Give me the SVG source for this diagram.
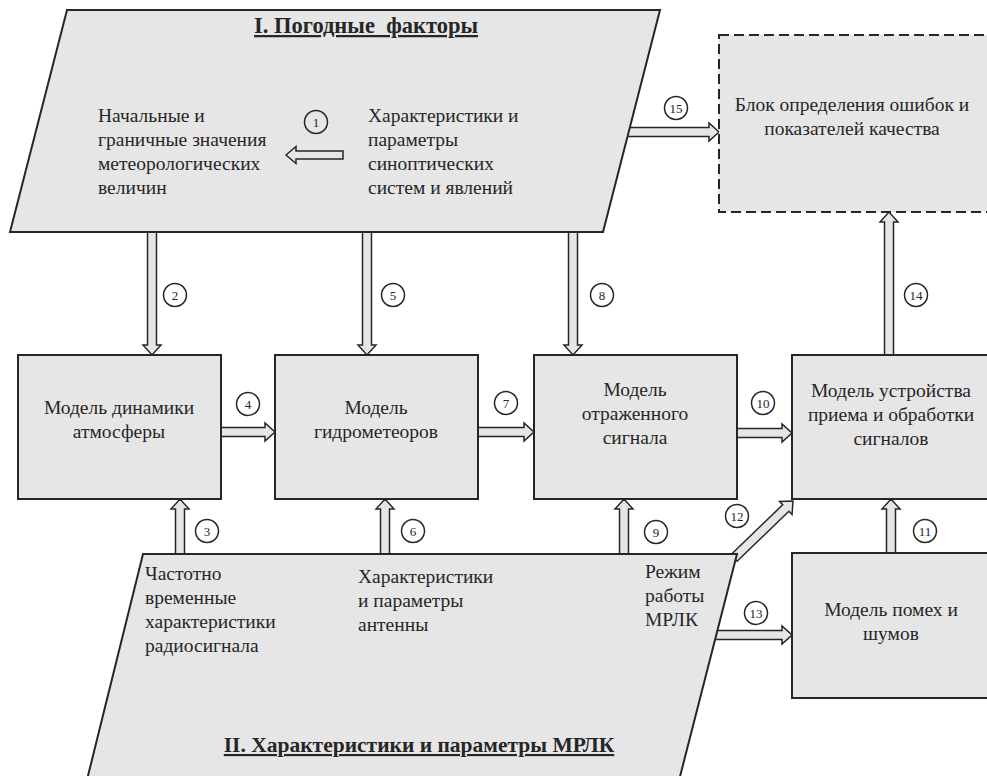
<svg xmlns="http://www.w3.org/2000/svg" width="987" height="776" viewBox="0 0 987 776" font-family="'Liberation Serif', 'Times New Roman', 'DejaVu Serif', serif">
<style>
.shape{fill:#e6e6e6;stroke:#262626;stroke-width:2}
.dash{fill:#e6e6e6;stroke:#262626;stroke-width:2;stroke-dasharray:10 5}
.ba{fill:#e6e6e6;stroke:#262626;stroke-width:1.5;stroke-linejoin:miter}
text{font-family:'Liberation Serif', 'Times New Roman', 'DejaVu Serif', serif}
.t{font-size:19.5px;fill:#262626}
.c{text-anchor:middle}
.h{font-weight:bold;text-decoration:underline}
.h1{font-size:22.5px}
.h2{font-size:21.5px}
.n circle{fill:none;stroke:#262626;stroke-width:1.5}
.n text{font-size:13px;fill:#262626;text-anchor:middle}
</style>
<rect width="987" height="776" fill="#ffffff"/>
<g id="connectors">
<path class="ba" d="M620,127.5 H709 V123 L719,132 L709,141 V136.5 H620 Z"/>
<path class="ba" d="M705,630.5 H782 V626 L792,635 L782,644 V639.5 H705 Z"/>
<path class="ba" transform="translate(734,558) rotate(-44)" d="M0,-4.5 H72 V-9 L82,0 L72,9 V4.5 H0 Z"/>
<path class="ba" d="M147.5,225 V345 H143 L152,355 L161,345 H156.5 V225 Z"/>
<path class="ba" d="M362.5,225 V345 H358 L367,355 L376,345 H371.5 V225 Z"/>
<path class="ba" d="M568.5,225 V345 H564 L573,355 L582,345 H577.5 V225 Z"/>
<path class="ba" d="M175.5,560 V509 H171 L180,499 L189,509 H184.5 V560 Z"/>
<path class="ba" d="M380.5,560 V509 H376 L385,499 L394,509 H389.5 V560 Z"/>
<path class="ba" d="M619.5,560 V509 H615 L624,499 L633,509 H628.5 V560 Z"/>
<path class="ba" d="M886.5,560 V509 H882 L891,499 L900,509 H895.5 V560 Z"/>
<path class="ba" d="M884.5,360 V222 H880 L889,212 L898,222 H893.5 V360 Z"/>
<path class="ba" d="M215,427.5 H265 V423 L275,432 L265,441 V436.5 H215 Z"/>
<path class="ba" d="M472,427.5 H524 V423 L534,432 L524,441 V436.5 H472 Z"/>
<path class="ba" d="M731,428.5 H782 V424 L792,433 L782,442 V437.5 H731 Z"/>
</g>
<g id="weather">
<polygon class="shape" points="67,10 660,10 603,232 10,232"/>
<text class="t h h1 c" x="366" y="33" xml:space="preserve">I. Погодные  факторы</text>
<text class="t" x="98" y="122">Начальные и</text>
<text class="t" x="98" y="146">граничные значения</text>
<text class="t" x="98" y="170">метеорологических</text>
<text class="t" x="98" y="194">величин</text>
<text class="t" x="368" y="122">Характеристики и</text>
<text class="t" x="368" y="146">параметры</text>
<text class="t" x="368" y="170">синоптических</text>
<text class="t" x="368" y="194">систем и явлений</text>
<path class="ba" d="M343,151 H296 V146.5 L286,155 L296,163.5 V159 H343 Z"/>
</g>
<g id="errors">
<rect class="dash" x="719" y="35" width="290" height="177"/>
<text class="t c" x="852" y="111">Блок определения ошибок и</text>
<text class="t c" x="852" y="135">показателей качества</text>
</g>
<g id="atmosphere">
<rect class="shape" x="18" y="355" width="203" height="144"/>
<text class="t c" x="119" y="414">Модель динамики</text>
<text class="t c" x="119" y="438">атмосферы</text>
</g>
<g id="hydrometeors">
<rect class="shape" x="275" y="355" width="203" height="144"/>
<text class="t c" x="376" y="414">Модель</text>
<text class="t c" x="376" y="438">гидрометеоров</text>
</g>
<g id="reflected">
<rect class="shape" x="534" y="355" width="203" height="144"/>
<text class="t c" x="635" y="396">Модель</text>
<text class="t c" x="635" y="420">отраженного</text>
<text class="t c" x="635" y="444">сигнала</text>
</g>
<g id="receiver">
<rect class="shape" x="792" y="355" width="210" height="144"/>
<text class="t c" x="891" y="397">Модель устройства</text>
<text class="t c" x="891" y="421">приема и обработки</text>
<text class="t c" x="891" y="445">сигналов</text>
</g>
<g id="noise">
<rect class="shape" x="792" y="553" width="210" height="145"/>
<text class="t c" x="891" y="616">Модель помех и</text>
<text class="t c" x="891" y="640">шумов</text>
</g>
<g id="radar">
<polygon class="shape" points="143,554 737,554 674,800 82,800"/>
<text class="t" x="145" y="580">Частотно</text>
<text class="t" x="145" y="604">временные</text>
<text class="t" x="145" y="628">характеристики</text>
<text class="t" x="145" y="652">радиосигнала</text>
<text class="t" x="358" y="583">Характеристики</text>
<text class="t" x="358" y="607">и параметры</text>
<text class="t" x="358" y="631">антенны</text>
<text class="t" x="645" y="578">Режим</text>
<text class="t" x="645" y="602">работы</text>
<text class="t" x="645" y="626">МРЛК</text>
<text class="t h h2 c" x="419" y="752">II. Характеристики и параметры МРЛК</text>
</g>
<g id="labels">
<g class="n"><circle cx="316" cy="122" r="11.5"/><text x="316" y="126.5">1</text></g>
<g class="n"><circle cx="175" cy="295" r="11.5"/><text x="175" y="299.5">2</text></g>
<g class="n"><circle cx="207" cy="531" r="11.5"/><text x="207" y="535.5">3</text></g>
<g class="n"><circle cx="248" cy="404" r="11.5"/><text x="248" y="408.5">4</text></g>
<g class="n"><circle cx="393" cy="295" r="11.5"/><text x="393" y="299.5">5</text></g>
<g class="n"><circle cx="413" cy="531" r="11.5"/><text x="413" y="535.5">6</text></g>
<g class="n"><circle cx="506" cy="403" r="11.5"/><text x="506" y="407.5">7</text></g>
<g class="n"><circle cx="602" cy="295" r="11.5"/><text x="602" y="299.5">8</text></g>
<g class="n"><circle cx="656" cy="532" r="11.5"/><text x="656" y="536.5">9</text></g>
<g class="n"><circle cx="763" cy="403" r="11.5"/><text x="763" y="407.5">10</text></g>
<g class="n"><circle cx="925" cy="531" r="11.5"/><text x="925" y="535.5">11</text></g>
<g class="n"><circle cx="737" cy="516" r="11.5"/><text x="737" y="520.5">12</text></g>
<g class="n"><circle cx="756" cy="613" r="11.5"/><text x="756" y="617.5">13</text></g>
<g class="n"><circle cx="916" cy="295" r="11.5"/><text x="916" y="299.5">14</text></g>
<g class="n"><circle cx="676" cy="108" r="11.5"/><text x="676" y="112.5">15</text></g>
</g>
</svg>
